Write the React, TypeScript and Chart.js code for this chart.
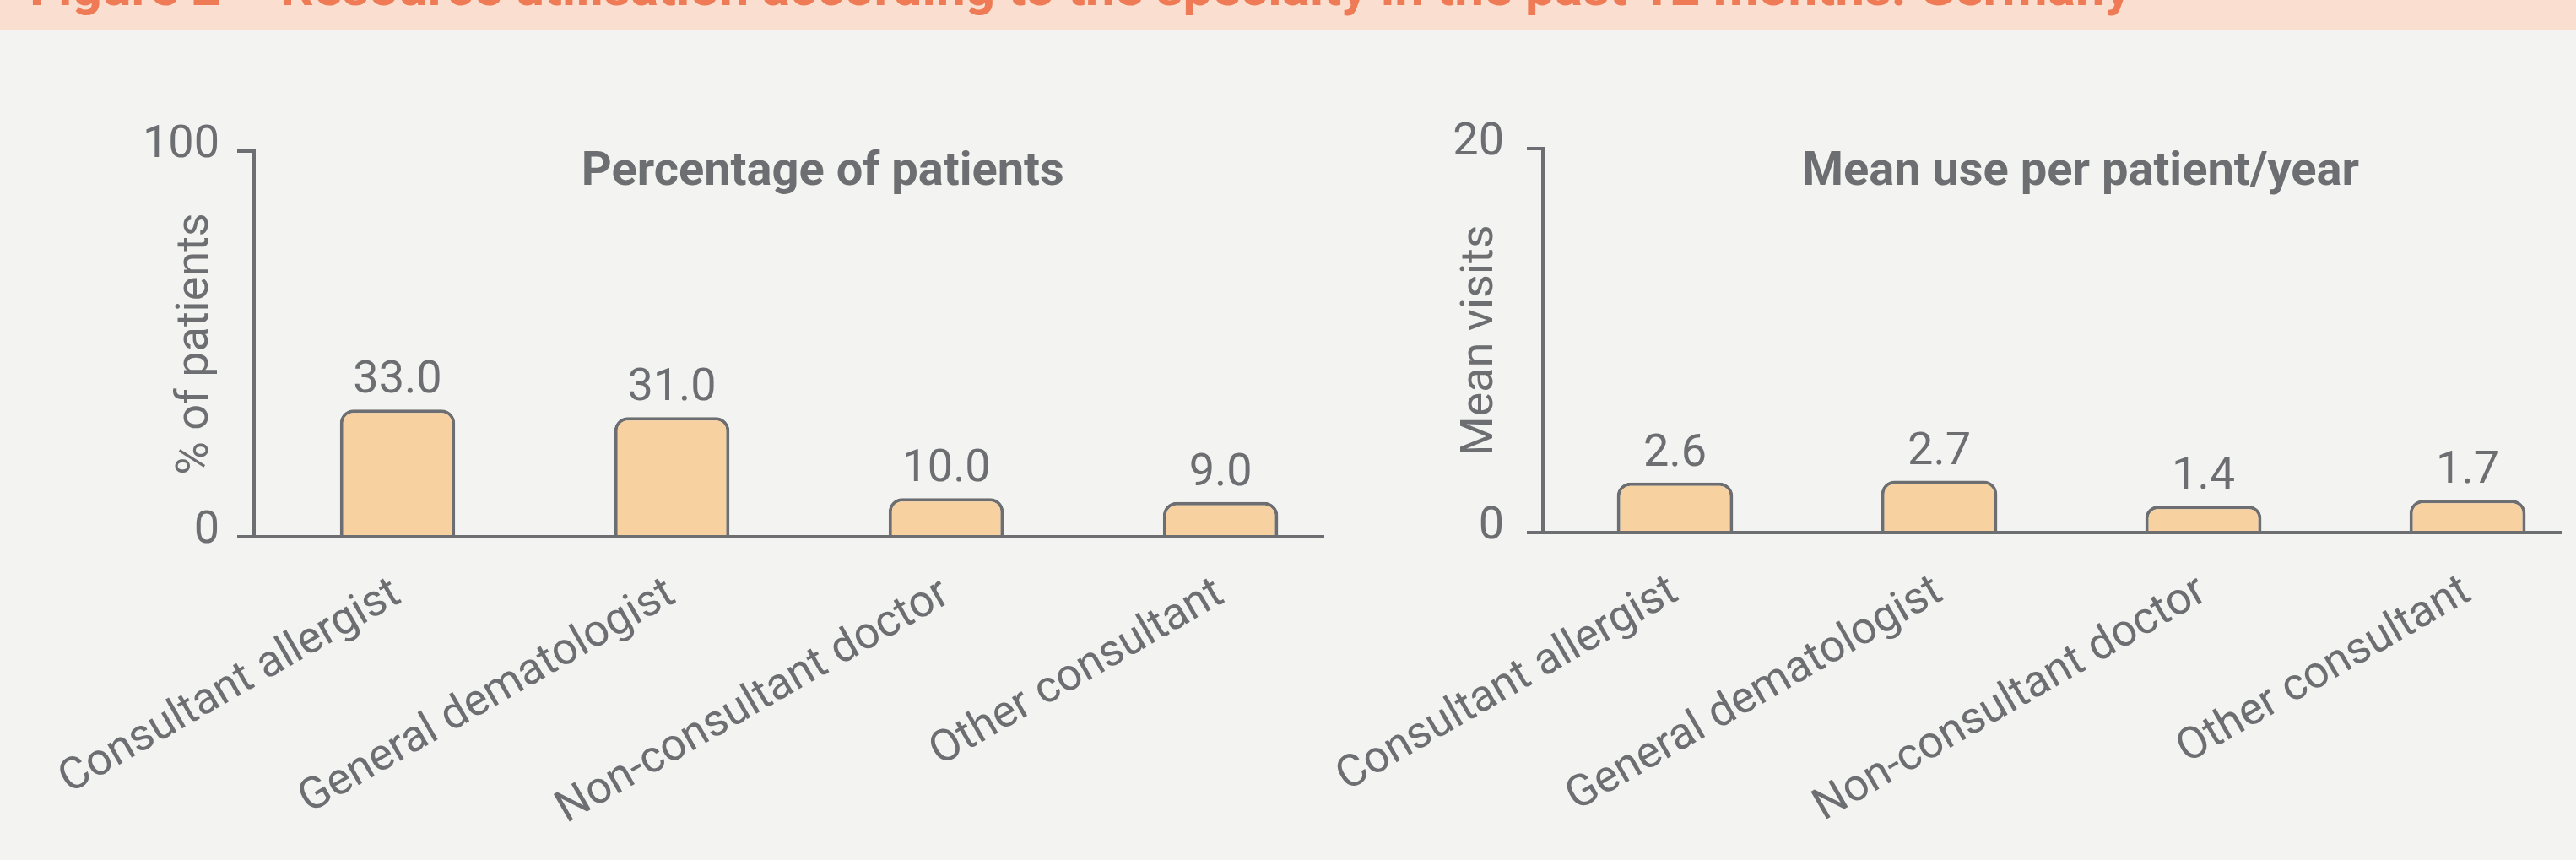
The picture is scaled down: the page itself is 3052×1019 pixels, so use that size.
import React, { useEffect, useRef } from "react";
import { Chart, registerables } from "chart.js";

Chart.register(...registerables);

const figureTitle =
  "Figure 2 – Resource utilisation according to the specialty in the past 12 months: Germany";
const categories = [
  "Consultant allergist",
  "General dematologist",
  "Non-consultant doctor",
  "Other consultant",
];
const percentValues = [33.0, 31.0, 10.0, 9.0];
const meanVisitValues = [2.6, 2.7, 1.4, 1.7];
const percentTicks = [0, 100];
const visitTicks = [0, 20];
const leftPanelTitle = "Percentage of patients";
const rightPanelTitle = "Mean use per patient/year";
const leftAxisTitle = "% of patients";
const rightAxisTitle = "Mean visits";

const GREY = "#6D6E71";
const FILL = "#F7D19F";
const FONT = "Roboto";

const annotatePlugin = {
  id: "annotate",
  afterDraw(chart: any, _args: any, opts: any) {
    const ctx = chart.ctx as CanvasRenderingContext2D;
    const meta = chart.getDatasetMeta(0);
    const data = chart.data.datasets[0].data as any[];
    ctx.save();
    ctx.fillStyle = GREY;
    ctx.textAlign = "center";
    ctx.textBaseline = "alphabetic";
    ctx.font = `54px ${FONT}`;
    meta.data.forEach((el: any, i: number) => {
      ctx.fillText(Number(data[i].y).toFixed(1), el.x, el.y - 20);
    });
    ctx.font = `bold 56px ${FONT}`;
    const xs = chart.scales.x;
    ctx.fillText(opts.title, xs.getPixelForValue(opts.titleAt), chart.chartArea.top + opts.titleDy);
    ctx.restore();
  },
};

type Panel = {
  values: number[];
  yTicks: number[];
  yMax: number;
  axisTitle: string;
  axisTitlePad: number;
  panelTitle: string;
  titleAt: number;
  titleDy: number;
  padLeft: number;
  yWidth: number;
  padRight: number;
  padTop: number;
  xHeight: number;
  xMin: number;
  xMax: number;
  catPct: number;
  yTickLen: number;
  yTickPad: number;
  xTickPad: number;
};

function makeChart(canvas: HTMLCanvasElement, p: Panel) {
  return new Chart(canvas, {
    type: "bar",
    data: {
      datasets: [
        {
          data: p.values.map((v, i) => ({ x: i, y: v })),
          backgroundColor: FILL,
          borderColor: GREY,
          borderWidth: 4,
          borderSkipped: "bottom",
          borderRadius: { topLeft: 16, topRight: 16, bottomLeft: 0, bottomRight: 0 },
          barPercentage: 1,
          categoryPercentage: p.catPct,
        } as any,
      ],
    },
    options: {
      responsive: false,
      animation: false,
      events: [],
      layout: { padding: { left: p.padLeft, right: p.padRight, top: p.padTop, bottom: 0 } },
      plugins: {
        legend: { display: false },
        tooltip: { enabled: false },
        annotate: { title: p.panelTitle, titleAt: p.titleAt, titleDy: p.titleDy },
      } as any,
      scales: {
        x: {
          type: "linear",
          offset: false,
          grace: 0,
          bounds: "data",
          min: p.xMin,
          max: p.xMax,
          z: 1,
          afterBuildTicks: (s: any) => {
            s.ticks = categories.map((_, i) => ({ value: i }));
          },
          afterFit: (s: any) => {
            s.height = p.xHeight;
            s.paddingLeft = 0;
            s.paddingRight = 0;
          },
          grid: { display: false, drawTicks: false, offset: false },
          border: { display: true, color: GREY, width: 4 },
          ticks: {
            autoSkip: false,
            minRotation: 30,
            maxRotation: 30,
            padding: p.xTickPad,
            color: GREY,
            font: { family: FONT, size: 53 },
            callback: (v: any) => categories[Math.round(Number(v))] ?? "",
          },
        },
        y: {
          type: "linear",
          min: 0,
          max: p.yMax,
          afterBuildTicks: (s: any) => {
            s.ticks = p.yTicks.map((v) => ({ value: v }));
          },
          afterFit: (s: any) => {
            s.width = p.yWidth;
          },
          grid: {
            display: true,
            drawOnChartArea: false,
            drawTicks: true,
            tickLength: p.yTickLen,
            lineWidth: 4,
            color: GREY,
          },
          border: { display: true, color: GREY, width: 4 },
          ticks: {
            padding: p.yTickPad,
            color: GREY,
            font: { family: FONT, size: 54, lineHeight: "14px" } as any,
            callback: (v: any) => [String(v), ""],
          },
          title: {
            display: true,
            text: p.axisTitle,
            color: GREY,
            font: { family: FONT, size: 54 },
            padding: { top: p.axisTitlePad, bottom: 0 },
          },
        },
      } as any,
    },
    plugins: [annotatePlugin],
  });
}

export default function App() {
  const leftRef = useRef<HTMLCanvasElement>(null);
  const rightRef = useRef<HTMLCanvasElement>(null);

  useEffect(() => {
    const left = makeChart(leftRef.current!, {
      values: percentValues,
      yTicks: percentTicks,
      yMax: 100,
      axisTitle: leftAxisTitle,
      axisTitlePad: 50,
      panelTitle: leftPanelTitle,
      titleAt: 1.55,
      titleDy: 40,
      padLeft: 150,
      yWidth: 151,
      padRight: 12,
      padTop: 179,
      xHeight: 383,
      xMin: -0.523,
      xMax: 3.375,
      catPct: 0.42,
      yTickLen: 20,
      yTickPad: 21,
      xTickPad: 37,
    });
    const right = makeChart(rightRef.current!, {
      values: meanVisitValues,
      yTicks: visitTicks,
      yMax: 20,
      axisTitle: rightAxisTitle,
      axisTitlePad: 42,
      panelTitle: rightPanelTitle,
      titleAt: 1.535,
      titleDy: 43,
      padLeft: 100,
      yWidth: 148,
      padRight: 17,
      padTop: 176,
      xHeight: 388,
      xMin: -0.5,
      xMax: 3.356,
      catPct: 0.44,
      yTickLen: 19,
      yTickPad: 27,
      xTickPad: 39,
    });
    return () => {
      left.destroy();
      right.destroy();
    };
  }, []);

  return (
    <div
      style={{
        position: "absolute",
        left: 0,
        top: 0,
        width: 3052,
        height: 1019,
        background: "#F3F3F1",
        overflow: "hidden",
      }}
    >
      <div
        style={{
          position: "absolute",
          left: 0,
          top: 0,
          width: 3052,
          height: 35,
          background: "#FADFD1",
          overflow: "hidden",
        }}
      >
        <span
          style={{
            position: "absolute",
            left: 35,
            top: -46,
            fontFamily: FONT,
            fontWeight: 700,
            fontSize: 62,
            lineHeight: "62px",
            color: "#EE7B55",
            whiteSpace: "nowrap",
          }}
        >
          {figureTitle}
        </span>
      </div>
      <canvas
        ref={leftRef}
        width={1580}
        height={1019}
        style={{ position: "absolute", left: 0, top: 0, display: "block" }}
      />
      <canvas
        ref={rightRef}
        width={1472}
        height={1019}
        style={{ position: "absolute", left: 1580, top: 0, display: "block" }}
      />
    </div>
  );
}
